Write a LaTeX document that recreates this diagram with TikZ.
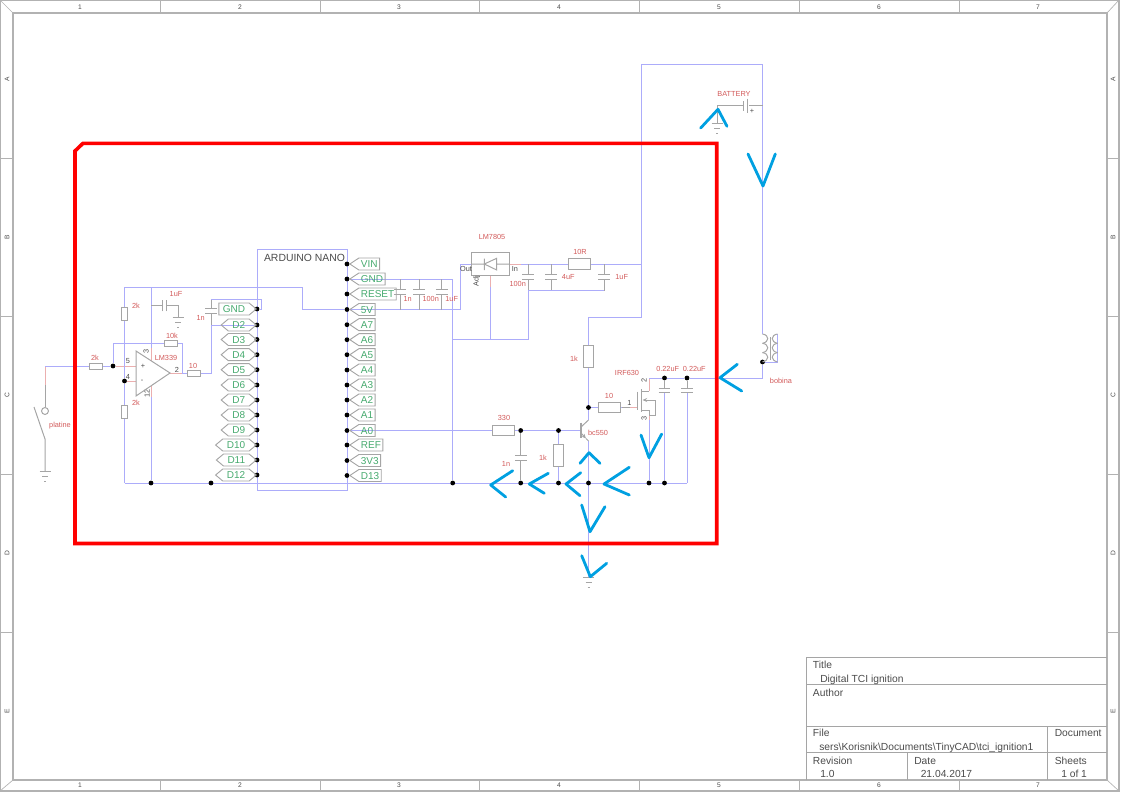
\documentclass[tikz,border=0pt]{standalone}
\usepackage{fontspec}
\setmainfont{Liberation Sans}
\definecolor{WireBlue}{RGB}{172, 172, 250}
\definecolor{PartGray}{RGB}{165, 165, 165}
\definecolor{SheetGray}{RGB}{178, 178, 178}
\definecolor{PinRed}{RGB}{235, 175, 175}
\definecolor{NameRed}{RGB}{210, 90, 90}
\definecolor{TagGreen}{RGB}{70, 170, 110}
\definecolor{InkGray}{RGB}{75, 75, 75}
\definecolor{MarkBlue}{RGB}{0, 160, 225}
\usetikzlibrary{arrows.meta, shapes.symbols, backgrounds}

\begin{document}
\begin{tikzpicture}[
    x=0.75pt, y=-0.75pt,
    wire/.style={draw=WireBlue, line width=0.7pt},
    part/.style={draw=PartGray, line width=0.75pt},
    pinwire/.style={draw=PinRed, line width=0.7pt},
    sheet/.style={draw=SheetGray, line width=0.9pt},
    outline/.style={draw=red, line width=2.7pt, line join=miter},
    handmark/.style={draw=MarkBlue, line width=2.1pt, line cap=round, line join=round},
    dot/.style={circle, fill=black, inner sep=0pt, minimum size=3.6pt},
    res/.style={rectangle, draw=PartGray, line width=0.75pt, inner sep=0pt, minimum width=16.5pt, minimum height=8pt},
    smallres/.style={res, minimum width=9.75pt, minimum height=4.5pt},
    capbox/.style={rectangle, inner sep=0pt, minimum width=8.5pt, minimum height=3pt},
    partname/.style={font=\fontsize{5.5}{6}\selectfont, text=NameRed, inner sep=0pt},
    pinno/.style={font=\fontsize{5.5}{6}\selectfont, text=InkGray, inner sep=0pt},
    tag/.style={signal, signal pointer angle=67, draw=PartGray, line width=0.7pt, inner ysep=0pt,
                minimum height=9pt, text height=5.5pt, text depth=0pt,
                font=\fontsize{7.5}{8}\selectfont, text=TagGreen},
    tagright/.style={tag, signal to=west, inner xsep=1.5pt, anchor=west},
    tagleft/.style={tag, signal pointer angle=80, signal to=west and east, inner xsep=3pt, anchor=east},
    tagend/.style={tag, signal pointer angle=80, signal to=east, inner xsep=3pt, anchor=east},
    sheettext/.style={font=\fontsize{5}{6}\selectfont, text=InkGray, inner sep=0pt},
    block/.style={font=\fontsize{7.7}{9}\selectfont, text=InkGray, inner sep=0pt, anchor=west,
                  text height=5.7pt, text depth=0pt},
    gnd/.pic={
        \draw[part] (-5.5,0) -- (5.5,0) (-3,5) -- (3,5) (-1,10) -- (1,10);
    }
]
    \useasboundingbox (0,0) rectangle (1128,800);

    % Sheet frame
    \draw[sheet] (0,0) rectangle (1119,791);
    \draw[sheet] (13,13) rectangle (1107,780);
    \draw[sheet, line width=0.5pt] (0,0) -- (13,13) (1119,0) -- (1107,13) (0,791) -- (13,780) (1119,791) -- (1107,780);
    \foreach \x in {160,320,479,639,799,959} {
        \draw[sheet, line width=0.5pt] (\x,0) -- (\x,13) (\x,780) -- (\x,791);
    }
    \foreach \y in {158,316,474,632} {
        \draw[sheet, line width=0.5pt] (0,\y) -- (13,\y) (1107,\y) -- (1119,\y);
    }
    \foreach \n/\x in {1/80,2/240,3/399,4/559,5/719,6/879,7/1038} {
        \node[sheettext] (top\n) at (\x,7) {\n};
        \node[sheettext] (bot\n) at (\x,785.5) {\n};
    }
    \foreach \n/\y in {A/79,B/237,C/395,D/553,E/711} {
        \node[sheettext, rotate=90] (left\n) at (7,\y) {\n};
        \node[sheettext, rotate=90] (right\n) at (1113,\y) {\n};
    }

    % Title block
    \draw[sheet, draw=PartGray, line width=0.6pt] (806,780) -- (806,657) -- (1107,657) (806,684) -- (1107,684) (806,726) -- (1107,726) (806,752) -- (1107,752) (1047,726) -- (1047,780) (907,752) -- (907,780);
    \node[block] (ttitle) at (812.7,665) {Title};
    \node[block] (tname) at (820,679) {Digital TCI ignition};
    \node[block] (tauthor) at (812.7,692.5) {Author};
    \node[block] (tfile) at (812.7,733) {File};
    \node[block] (tpath) at (819,746.7) {sers\textbackslash Korisnik\textbackslash Documents\textbackslash TinyCAD\textbackslash tci\_ignition1};
    \node[block] (tdoc) at (1054.5,733) {Document};
    \node[block] (trev) at (812.7,760.5) {Revision};
    \node[block] (trevno) at (820,774) {1.0};
    \node[block] (tdate) at (914,760.5) {Date};
    \node[block] (tday) at (920.5,774) {21.04.2017};
    \node[block] (tsheets) at (1054.5,760.5) {Sheets};
    \node[block] (tsheetno) at (1061,774) {1 of 1};

    % Arduino board
    \node[rectangle, draw=WireBlue, line width=0.7pt, minimum width=67.5pt, minimum height=180.75pt, inner sep=0pt] (nano) at (302,369.5) {};
    \node[inner sep=0pt, font=\fontsize{7.8}{9}\selectfont, text=InkGray] (nanoname) at (304.5,258) {ARDUINO NANO};

    % Left pins
    \node[dot] (gndl) at (257,309) {};
    \node[tagend] (taggndl) at (257,309) {GND};
    \foreach \p/\y in {D2/325,D3/339.5,D4/354.7,D5/369.7,D6/385,D7/400,D8/415,D9/430,D10/445,D11/460,D12/475} {
        \node[dot] (\p) at (257,\y) {};
        \node[tagleft] (tag\p) at (257,\y) {\p};
    }

    % Right pins
    \foreach \p/\y in {VIN/264,GND/279,RESET/294,5V/309.5,A7/324.7,A6/339.7,A5/354.7,A4/370,A3/385,A2/400,A1/415,A0/430.5,REF/445,3V3/460.5,D13/475.5} {
        \node[dot] (\p) at (347,\y) {};
        \node[tagright] (tag\p) at (349,\y) {\p};
    }

    % Input side
    \coordinate (swtop) at (45,366);
    \coordinate (swpin) at (45,385);
    \coordinate (swhinge) at (45,439);
    \coordinate (swend) at (34,407);
    \coordinate (swgnd) at (45,471);
    \node[circle, draw=PartGray, line width=0.75pt, inner sep=0pt, minimum size=5.2pt] (swpole) at (45,411) {};
    \node[partname] (swname) at (60,426) {platine};
    \node[smallres] (rin) at (95.5,366) {};
    \node[dot] (nplus) at (113,366) {};
    \node[dot] (nminus) at (124.5,381) {};
    \node[smallres, rotate=90] (rup) at (124.5,313.5) {};
    \node[smallres, rotate=90] (rdn) at (124.5,411.5) {};
    \node[smallres] (rfb) at (170.5,343) {};
    \node[smallres] (rout) at (193.5,373) {};
    \node[capbox, rotate=90] (cop) at (164.7,305.5) {};
    \node[capbox] (cin) at (211,311) {};
    \node[partname] (nrin) at (95,358) {2k};
    \node[partname] (nrup) at (136,305.7) {2k};
    \node[partname] (nrdn) at (136,403) {2k};
    \node[partname] (nrfb) at (172,336) {10k};
    \node[partname] (nrout) at (193,366) {10};
    \node[partname] (ncop) at (176,294) {1uF};
    \node[partname] (ncin) at (200.7,318) {1n};
    \node[partname] (nop) at (166,358) {LM339};
    \node[pinno] (p5) at (128,361) {5};
    \node[pinno] (p4) at (128,377) {4};
    \node[pinno] (p2) at (177,369.5) {2};
    \node[pinno, rotate=90] (p3) at (146,351) {3};
    \node[pinno, rotate=90] (p12) at (147,393) {12};

    % Comparator
    \coordinate (optop) at (151,360.8);
    \coordinate (opbot) at (151,386);
    \coordinate (opa) at (136,366);
    \coordinate (opb) at (136,381);
    \coordinate (optip) at (170,373);
    \draw[part] (136,351) -- (136,396) -- (optip) -- cycle;
    \node[pinno] (opplus) at (143,366) {+};
    \node[pinno] (opminus) at (142,381.5) {-};

    % Power part
    \node[rectangle, draw=PartGray, line width=0.75pt, inner sep=0pt, minimum width=28pt, minimum height=17pt] (lm) at (490.5,264) {};
    \draw[part] (lm.west) -- (484.3,264) (484.3,258.5) -- (484.3,270) (496.7,258.3) -- (496.7,270) -- (484.3,264) -- cycle (496.7,264) -- (lm.east);
    \node[partname] (nlm) at (492,237) {LM7805};
    \node[pinno] (pout) at (466,269) {Out};
    \node[pinno] (pinin) at (515,269) {In};
    \node[pinno, rotate=90] (padj) at (476.7,280.7) {Adj};
    \coordinate (adjpin) at (490.7,286.7);
    \foreach \c/\x in {ca/400,cb/419,cc/441.7} {
        \node[capbox] (\c) at (\x,292) {};
        \coordinate (\c-t) at (\x,279);
        \coordinate (\c-b) at (\x,309.5);
    }
    \node[partname] (nca) at (407.7,299.3) {1n};
    \node[partname] (ncb) at (430.7,299.3) {100n};
    \node[partname] (ncc) at (451.7,299.3) {1uF};
    \foreach \c/\x in {cd/528.3,ce/551,cf/604} {
        \node[capbox] (\c) at (\x,277) {};
        \coordinate (\c-t) at (\x,264);
        \coordinate (\c-b) at (\x,290.7);
    }
    \node[res] (rser) at (579,264) {};
    \node[partname] (nrser) at (580,252.3) {10R};
    \node[partname] (ncd) at (517.7,284.3) {100n};
    \node[partname] (nce) at (568.3,276.7) {4uF};
    \node[partname] (ncf) at (621.7,276.7) {1uF};

    % Driver part
    \node[res, rotate=90] (rpull) at (588.5,356.5) {};
    \node[partname] (nrpull) at (574,359) {1k};
    \node[res] (rbase) at (503.7,430.5) {};
    \node[partname] (nrbase) at (504,418) {330};
    \node[dot] (nb1) at (520.7,430.5) {};
    \node[dot] (nb2) at (558.5,430.5) {};
    \node[capbox] (cbase) at (520.7,458) {};
    \node[partname] (ncbase) at (506,464) {1n};
    \node[res, rotate=90] (rbleed) at (558.5,455) {};
    \node[partname] (nrbleed) at (543,457.7) {1k};
    \node[dot] (ncol) at (588.5,407.5) {};
    \node[res] (rgate) at (609.3,407.5) {};
    \node[partname] (nrgate) at (609,396) {10};
    \coordinate (qbase) at (581,430.5);
    \coordinate (qcol) at (588.5,420);
    \coordinate (qemi) at (588.5,441);
    \draw[part, line width=1pt] (581,422.7) -- (581,438);
    \draw[part] (581,427) -- (qcol);
    \draw[part, -{Stealth[length=3.5pt, width=3pt]}] (581,433) -- (586,438.5);
    \draw[part] (586,438.5) -- (qemi);
    \node[partname] (nq) at (598,433) {bc550};

    % Mosfet
    \coordinate (mgate) at (637.3,407.5);
    \coordinate (mdrain) at (649,391);
    \coordinate (msrc) at (649,415);
    \draw[part, line width=1pt] (637.3,391.7) -- (637.3,410) (641.7,389.3) -- (641.7,411.7);
    \draw[part] (641.7,391) -- (mdrain) (641.7,410) -- (649,410) -- (msrc);
    \draw[part, -{Stealth[length=3.5pt, width=3pt]}] (655,400) -- (642.5,400);
    \draw[part] (655,400) -- (655,415) -- (msrc);
    \node[partname] (nm) at (627,372.7) {IRF630};
    \node[pinno] (pg) at (629.3,403.3) {1};
    \node[pinno, rotate=90] (pd) at (644,380.7) {2};
    \node[pinno, rotate=90] (ps) at (644,418) {3};
    \node[dot] (nd1) at (664.5,378) {};
    \node[dot] (nd2) at (687,378) {};
    \node[capbox] (cd1) at (664.5,390.3) {};
    \node[capbox] (cd2) at (687,390.3) {};
    \node[partname] (ncd1) at (667.7,369) {0.22uF};
    \node[partname] (ncd2) at (694.3,369) {0.22uF};

    % Bottom rail
    \coordinate (railstart) at (124.5,483);
    \coordinate (railend) at (687,483);
    \foreach \d/\x in {g1/151,g2/211,g3/452.7,g4/520.7,g5/558.5,g6/588.5,g7/649,g8/664.5} {
        \node[dot] (\d) at (\x,483) {};
    }
    \coordinate (railgnd) at (588.5,577);

    % Coil and battery
    \coordinate (coiltop) at (762.5,334);
    \coordinate (coilend) at (777.5,334);
    \node[dot] (ncoil) at (762.5,362) {};
    \coordinate (coilret) at (777.5,362);
    \foreach \y in {334,343.3,352.6} {
        \draw[part] (762.5,\y) .. controls (769.5,\y+1) and (769.5,\y+8) .. (762.5,\y+9.3);
        \draw[part] (777.5,\y) .. controls (770.5,\y+1) and (770.5,\y+8) .. (777.5,\y+9.3);
    }
    \draw[part] (770,337) -- (770,360);
    \node[partname] (ncoiln) at (781,380.5) {bobina};
    \coordinate (batr) at (762.5,105.5);
    \coordinate (batl) at (717,105.5);
    \coordinate (batg) at (717,123);
    \draw[part] (batl) -- (743,105.5) (749,105.5) -- (batr);
    \draw[part] (743,101) -- (743,110.5);
    \draw[part] (747.5,98.5) -- (747.5,113);
    \draw[part] (batl) -- (batg);
    \node[pinno] (batplus) at (752,111.7) {+};
    \node[partname] (nbat) at (734,93.7) {BATTERY};
    \pic at (batg) {gnd};

    % Grounds
    \pic at (178,317) {gnd};
    \pic at (swgnd) {gnd};
    \pic at (railgnd) {gnd};

    % Capacitor plates
    \foreach \c in {cop,cin,ca,cb,cc,cd,ce,cf,cbase,cd1,cd2} {
        \draw[part] (\c.north west) -- (\c.north east) (\c.south west) -- (\c.south east);
    }

    \begin{pgfonlayer}{background}
        % Wires of the input side
        \draw[pinwire] (swtop) -- (swpin);
        \draw[part] (swpin) -- (swpole);
        \draw[part] (swend) -- (swhinge) -- (swgnd);
        \draw[wire] (swtop) -- (rin);
        \draw[wire] (rin) -- (nplus);
        \draw[pinwire] (nplus) -- (opa);
        \draw[pinwire] (nminus) -- (opb);
        \draw[wire] (nplus) |- (rfb);
        \draw[wire] (rfb) -| (182,373);
        \draw[pinwire] (optip) -- (182,373);
        \draw[wire] (182,373) -- (rout);
        \draw[wire] (rout) -| (211,325) -- (D2);
        \draw[part] (cin) -- (211,299);
        \draw[part] (cin) -- (211,325);
        \draw[wire] (211,299) -| (261,309) -- (gndl);
        \draw[wire] (nminus) -- (rdn);
        \draw[wire] (rdn) -- (railstart);
        \draw[wire] (nminus) -- (rup);
        \draw[wire] (rup) -- (124.5,287) -- (302,287) |- (5V);

        % Comparator supply
        \draw[wire] (151,287) -- (151,348) (151,397) -- (g1);
        \draw[pinwire] (151,348) -- (optop) (opbot) -- (151,397);
        \draw[part] (151,305.5) -- (cop);
        \draw[part] (cop) -| (178,317);

        % Power part
        \draw[wire] (5V) -- (460.5,309.5) |- (lm.west);
        \draw[wire] (GND) -- (452.7,279) -- (g3);
        \draw[wire] (railstart) -- (railend);
        \foreach \c in {ca,cb,cc} {
            \draw[part] (\c-t) -- (\c);
            \draw[part] (\c) -- (\c-b);
        }
        \draw[pinwire] (lm.east) -- (521,264);
        \draw[wire] (521,264) -- (rser);
        \draw[wire] (rser) -- (641.5,264);
        \foreach \c in {cd,ce,cf} {
            \draw[part] (\c-t) -- (\c);
            \draw[part] (\c) -- (\c-b);
        }
        \draw[wire] (cf-b) -- (cd-b) -- (528.3,339.3) -- (452.7,339.3);
        \draw[pinwire] (lm.south -| adjpin) -- (adjpin);
        \draw[wire] (adjpin) -- (490.7,339.3);

        % Driver part
        \draw[wire] (A0) -- (rbase);
        \draw[wire] (rbase) -- (nb1);
        \draw[wire] (nb1) -- (nb2);
        \draw[wire] (nb2) -- (qbase);
        \draw[part] (nb1) -- (cbase);
        \draw[part] (cbase) -- (g4);
        \draw[wire] (nb2) -- (rbleed);
        \draw[wire] (rbleed) -- (g5);
        \draw[wire] (rpull) |- (641.5,317.3);
        \draw[wire] (rpull) -- (ncol);
        \draw[wire] (ncol) -- (qcol);
        \draw[wire] (ncol) -- (rgate);
        \draw[wire] (rgate) -- (622,407.5);
        \draw[part] (622,407.5) -- (630,407.5);
        \draw[pinwire] (630,407.5) -- (mgate);
        \draw[wire] (qemi) -- (railgnd);

        % Mosfet and coil
        \draw[pinwire] (mdrain) -- (649,378);
        \draw[wire] (649,378) -- (nd1);
        \draw[wire] (nd1) -- (nd2);
        \draw[wire] (nd2) -- (762.5,378) -- (ncoil);
        \draw[pinwire] (msrc) -- (649,420);
        \draw[wire] (649,420) -- (g7);
        \draw[part] (nd1) -- (cd1);
        \draw[wire] (cd1) -- (g8);
        \draw[part] (nd2) -- (cd2);
        \draw[wire] (cd2) -- (railend);
        \draw[wire] (ncoil) -- (coilret) -- (coilend);
        \draw[wire] (641.5,317.3) -- (641.5,64.5) -- (762.5,64.5) -- (coiltop);
        \draw[wire] (batl) -- (730,105.5);
    \end{pgfonlayer}

    % Outline and hand marks
    \draw[outline] (75,151) -- (83,143.3) -- (716.7,143.3) -- (716.7,543.5) -- (75,543.5) -- cycle;
    \draw[handmark] (700.7,128) -- (718,109.3) -- (727,126.3);
    \draw[handmark] (748,154) -- (763,186) -- (775.3,154);
    \draw[handmark] (737.3,364.3) -- (720,377.7) -- (741.7,391);
    \draw[handmark] (661.7,434) -- (649,457.7) -- (641,435);
    \draw[handmark] (600,463.3) -- (589,452.7) -- (580,463.3);
    \draw[handmark] (629.3,467.3) -- (604,484) -- (629.3,495);
    \draw[handmark] (580.7,472.7) -- (566,484) -- (580,495.7);
    \draw[handmark] (548.3,473.3) -- (529.3,484) -- (544.3,493.3);
    \draw[handmark] (512.7,470.7) -- (490.7,485) -- (505.7,497);
    \draw[handmark] (581.7,505) -- (590,531.7) -- (605,506.7);
    \draw[handmark] (581.7,555.7) -- (590.3,576.7) -- (606.7,563.3);
\end{tikzpicture}
\end{document}
